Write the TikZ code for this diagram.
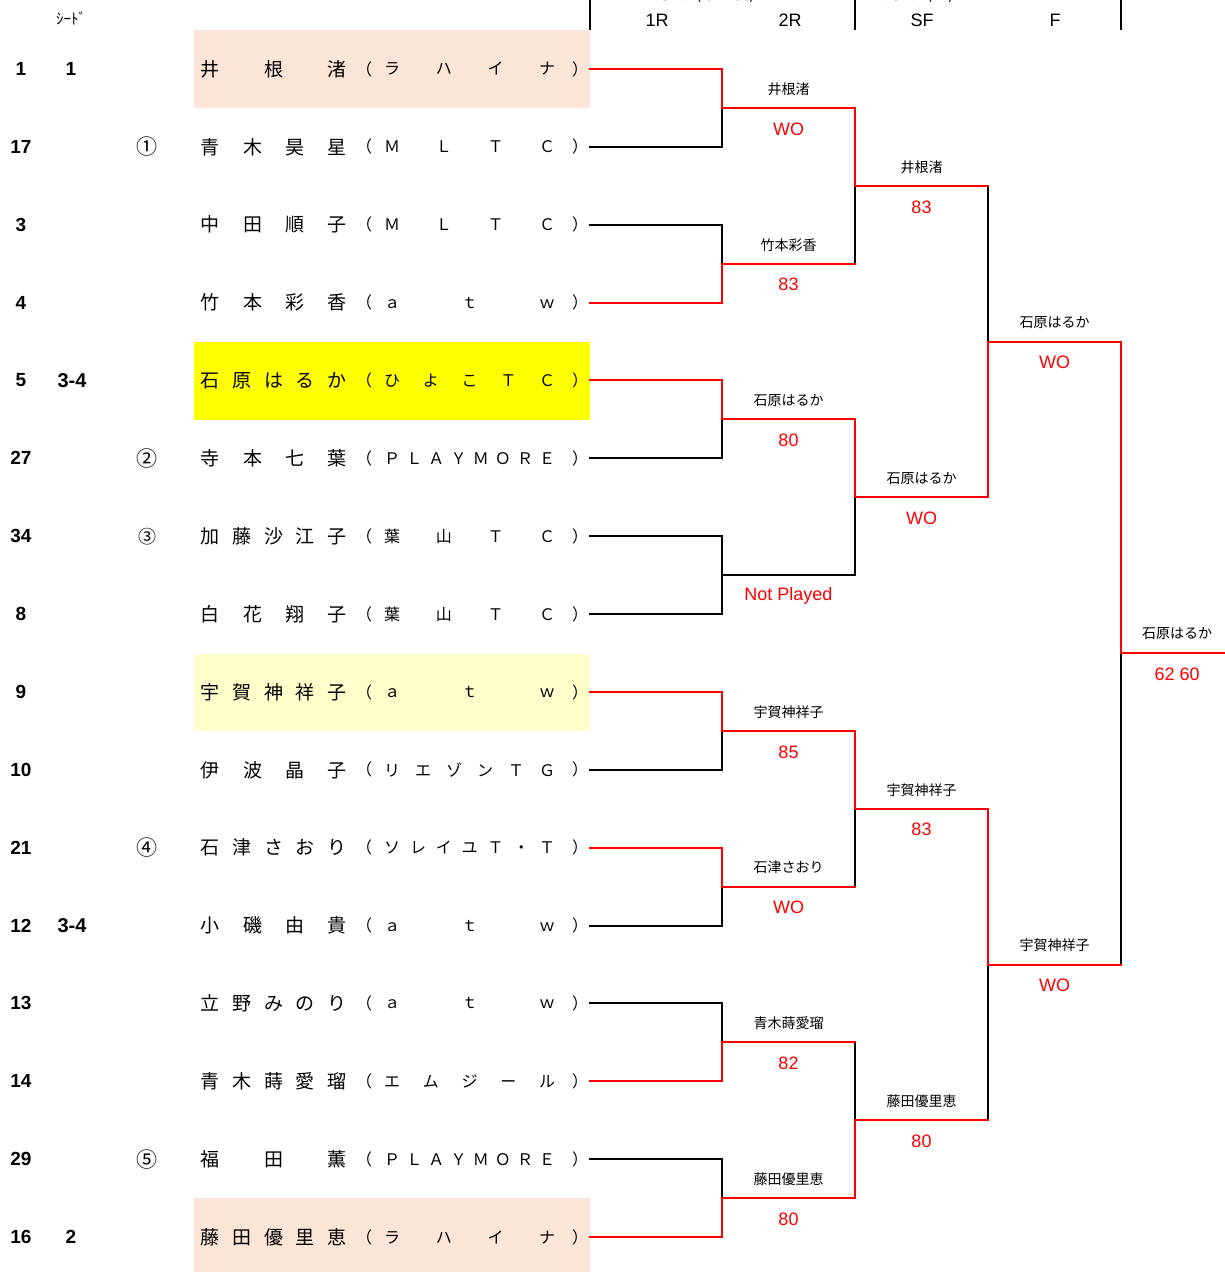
\documentclass[tikz,border=0pt]{standalone}
\usepackage{fontspec}
\setmainfont{Liberation Sans}
\newfontfamily\jp{Noto Sans CJK JP}
\usetikzlibrary{calc}
\definecolor{peach}{HTML}{FBE5D6}
\definecolor{lyel}{HTML}{FFFFCC}
\definecolor{bred}{HTML}{FF0000}
\definecolor{pyel}{HTML}{FFFF00}
\newcommand\namef{\jp\fontsize{19}{19}\selectfont}
\newcommand\clubf{\jp\fontsize{16}{16}\selectfont}
\newcommand\prow[3]{%
  \pgfmathsetmacro\ry{69+77.87*#1}%
  \node[anchor=west,inner sep=0pt] (nm#1) at (200.5,\ry) {\namef\makebox[146pt]{#2}};
  \node[inner sep=0pt] (po#1) at (364,\ry) {\clubf （};
  \node[anchor=west,inner sep=0pt] (cl#1) at (384,\ry) {\clubf\makebox[171pt]{#3}};
  \node[inner sep=0pt] (pc#1) at (580,\ry) {\clubf ）};
}
\begin{document}
\begin{tikzpicture}[x=1pt,y=-1pt,
  win/.style={draw=bred,line width=2pt,line cap=rect},
  lose/.style={draw=black,line width=2pt,line cap=rect},
  nm/.style={yshift=19pt,font=\jp\fontsize{14}{14}\selectfont,inner sep=0pt},
  sc/.style={yshift=-21pt,text=bred,font=\fontsize{18}{18}\selectfont,inner sep=0pt},
  numf/.style={font=\bfseries\fontsize{19}{19}\selectfont,inner sep=0pt},
  hdr/.style={font=\fontsize{18}{18}\selectfont,inner sep=0pt},
  circ/.style={font=\jp\fontsize{21}{21}\selectfont,inner sep=0pt}]
\useasboundingbox (0,0) rectangle (1225,1272);
% highlighted rows
\fill[peach] (194,30) rectangle (590,108);
\fill[pyel] (194,342) rectangle (590,420);
\fill[lyel] (194,654) rectangle (590,731);
\fill[peach] (194,1198) rectangle (590,1272);
% header
\node[font=\jp\fontsize{15}{15}\selectfont,inner sep=0pt] (seedh) at (71,18) {ｼｰﾄﾞ};
\node[font=\jp\fontsize{16}{16}\selectfont,anchor=base,inner sep=0pt] (d1) at (696,-0.5) {11月3日(木・祝)};
\node[font=\jp\fontsize{16}{16}\selectfont,anchor=base,inner sep=0pt] (d2) at (911,-0.5) {11月6日(日)};
\coordinate (hA) at (590,0); \coordinate (hA2) at (590,30);
\coordinate (hB) at (855,0); \coordinate (hB2) at (855,30);
\coordinate (hC) at (1121,0); \coordinate (hC2) at (1121,30);
\draw[lose,line cap=butt] (hA) -- (hA2);
\draw[lose,line cap=butt] (hB) -- (hB2);
\draw[lose,line cap=butt] (hC) -- (hC2);
\node[hdr] (h1) at (657,20) {1R};
\node[hdr] (h2) at (790,20) {2R};
\node[hdr] (h3) at (922,20) {SF};
\node[hdr] (h4) at (1055,20) {F};
% players
\prow{0}{井\hfill 根\hfill 渚}{ラ\hfill ハ\hfill イ\hfill ナ}
\prow{1}{青\hfill 木\hfill 昊\hfill 星}{Ｍ\hfill Ｌ\hfill Ｔ\hfill Ｃ}
\prow{2}{中\hfill 田\hfill 順\hfill 子}{Ｍ\hfill Ｌ\hfill Ｔ\hfill Ｃ}
\prow{3}{竹\hfill 本\hfill 彩\hfill 香}{ａ\hfill ｔ\hfill ｗ}
\prow{4}{石\hfill 原\hfill は\hfill る\hfill か}{ひ\hfill よ\hfill こ\hfill Ｔ\hfill Ｃ}
\prow{5}{寺\hfill 本\hfill 七\hfill 葉}{Ｐ\hfill Ｌ\hfill Ａ\hfill Ｙ\hfill Ｍ\hfill Ｏ\hfill Ｒ\hfill Ｅ}
\prow{6}{加\hfill 藤\hfill 沙\hfill 江\hfill 子}{葉\hfill 山\hfill Ｔ\hfill Ｃ}
\prow{7}{白\hfill 花\hfill 翔\hfill 子}{葉\hfill 山\hfill Ｔ\hfill Ｃ}
\prow{8}{宇\hfill 賀\hfill 神\hfill 祥\hfill 子}{ａ\hfill ｔ\hfill ｗ}
\prow{9}{伊\hfill 波\hfill 晶\hfill 子}{リ\hfill エ\hfill ゾ\hfill ン\hfill Ｔ\hfill Ｇ}
\prow{10}{石\hfill 津\hfill さ\hfill お\hfill り}{ソ\hfill レ\hfill イ\hfill ユ\hfill Ｔ\hfill ・\hfill Ｔ}
\prow{11}{小\hfill 磯\hfill 由\hfill 貴}{ａ\hfill ｔ\hfill ｗ}
\prow{12}{立\hfill 野\hfill み\hfill の\hfill り}{ａ\hfill ｔ\hfill ｗ}
\prow{13}{青\hfill 木\hfill 蒔\hfill 愛\hfill 瑠}{エ\hfill ム\hfill ジ\hfill ー\hfill ル}
\prow{14}{福\hfill 田\hfill 薫}{Ｐ\hfill Ｌ\hfill Ａ\hfill Ｙ\hfill Ｍ\hfill Ｏ\hfill Ｒ\hfill Ｅ}
\prow{15}{藤\hfill 田\hfill 優\hfill 里\hfill 恵}{ラ\hfill ハ\hfill イ\hfill ナ}
% draw numbers
\foreach \n [count=\i from 0] in {1,17,3,4,5,27,34,8,9,10,21,12,13,14,29,16}{
  \pgfmathsetmacro\yy{69+77.87*\i}
  \node[numf] (no\i) at (21,\yy) {\n};
}
% seeds
\node[numf] (sd0) at (71,69) {1};
\node[numf,font=\bfseries\fontsize{20}{20}\selectfont] (sd4) at (72,380.5) {3-4};
\node[numf,font=\bfseries\fontsize{20}{20}\selectfont] (sd11) at (72,925.6) {3-4};
\node[numf] (sd15) at (71,1237.1) {2};
% circled numbers
\node[circ] (c1) at (147,146.9) {①};
\node[circ] (c5) at (147,458.4) {②};
\node[circ,font=\jp\fontsize{18}{18}\selectfont] (c6) at (147,536.2) {③};
\node[circ] (c10) at (147,847.7) {④};
\node[circ] (c14) at (147,1159.2) {⑤};
% bracket coordinates
\foreach \i in {0,...,15}{
  \pgfmathsetmacro\yy{69+77.87*\i}
  \coordinate (p\i) at (590,\yy);
  \coordinate (a\i) at (722,\yy);
}
\foreach \k in {0,...,7}{
  \pgfmathsetmacro\yy{69+77.87*(2*\k+0.5)}
  \coordinate (m\k) at (722,\yy);
  \coordinate (n\k) at (855,\yy);
}
\foreach \j in {0,...,3}{
  \pgfmathsetmacro\yy{69+77.87*(4*\j+1.5)}
  \coordinate (s\j) at (855,\yy);
  \coordinate (t\j) at (988,\yy);
}
\foreach \l in {0,1}{
  \pgfmathsetmacro\yy{69+77.87*(8*\l+3.5)}
  \coordinate (u\l) at (988,\yy);
  \coordinate (v\l) at (1121,\yy);
}
\coordinate (w) at (1121,653.0);
\coordinate (z) at (1225,653.0);
% losing paths
\draw[lose] (p1) -- (a1) -- (m0);
\draw[lose] (p2) -- (a2) -- (m1);
\draw[lose] (p5) -- (a5) -- (m2);
\draw[lose] (p6) -- (a6) -- (m3) -- node[sc] (S3) {Not Played} (n3);
\draw[lose] (p7) -- (a7) -- (m3);
\draw[lose] (p9) -- (a9) -- (m4);
\draw[lose] (p11) -- (a11) -- (m5);
\draw[lose] (p12) -- (a12) -- (m6);
\draw[lose] (p14) -- (a14) -- (m7);
\draw[lose] (n1) -- (s0);
\draw[lose] (n3) -- (s1);
\draw[lose] (n5) -- (s2);
\draw[lose] (n6) -- (s3);
\draw[lose] (t0) -- (u0);
\draw[lose] (t3) -- (u1);
\draw[lose] (v1) -- (w);
% winning paths
\draw[win] (p0) -- (a0) -- (m0) -- node[nm] (L0) {井根渚} node[sc] (S0) {WO} (n0);
\draw[win] (p3) -- (a3) -- (m1) -- node[nm] (L1) {竹本彩香} node[sc] (S1) {83} (n1);
\draw[win] (p4) -- (a4) -- (m2) -- node[nm] (L2) {石原はるか} node[sc] (S2) {80} (n2);
\draw[win] (p8) -- (a8) -- (m4) -- node[nm] (L4) {宇賀神祥子} node[sc] (S4) {85} (n4);
\draw[win] (p10) -- (a10) -- (m5) -- node[nm] (L5) {石津さおり} node[sc] (S5) {WO} (n5);
\draw[win] (p13) -- (a13) -- (m6) -- node[nm] (L6) {青木蒔愛瑠} node[sc] (S6) {82} (n6);
\draw[win] (p15) -- (a15) -- (m7) -- node[nm] (L7) {藤田優里恵} node[sc] (S7) {80} (n7);
\draw[win] (n0) -- (s0) -- node[nm] (Q0) {井根渚} node[sc] (R0) {83} (t0);
\draw[win] (n2) -- (s1) -- node[nm] (Q1) {石原はるか} node[sc] (R1) {WO} (t1);
\draw[win] (n4) -- (s2) -- node[nm] (Q2) {宇賀神祥子} node[sc] (R2) {83} (t2);
\draw[win] (n7) -- (s3) -- node[nm] (Q3) {藤田優里恵} node[sc] (R3) {80} (t3);
\draw[win] (t1) -- (u0) -- node[nm] (X0) {石原はるか} node[sc] (Y0) {WO} (v0);
\draw[win] (t2) -- (u1) -- node[nm] (X1) {宇賀神祥子} node[sc] (Y1) {WO} (v1);
\draw[win] (v0) -- (w) -- node[nm,pos=0.54] (FN) {石原はるか} node[sc,pos=0.54] (FS) {62 60} (z);
\end{tikzpicture}
\end{document}
